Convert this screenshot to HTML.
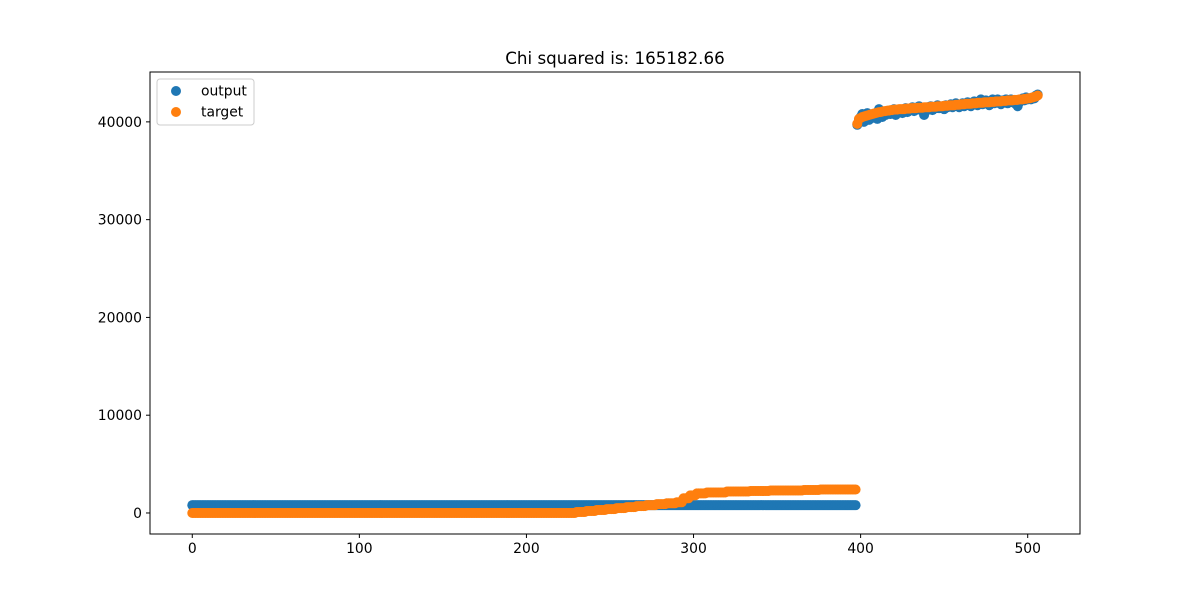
<!DOCTYPE html>
<html><head><meta charset="utf-8"><style>
body{margin:0;background:#fff}
svg{display:block;font-family:"DejaVu Sans","Liberation Sans",sans-serif}
</style></head><body>
<svg id="chart" width="1200" height="600">
<rect width="1200" height="600" fill="#fff"/>
<text x="615" y="64" text-anchor="middle" font-size="16.7">Chi squared is: 165182.66</text>
<g id="marks"></g>
<rect x="150" y="72" width="930" height="462" fill="none" stroke="#000" stroke-width="1"/>
<g id="axes"></g>
<g>
<rect x="157" y="79" width="97" height="46" rx="3" fill="#fff" fill-opacity="0.8" stroke="#ccc"/>
<circle cx="176" cy="91" r="5" fill="#1f77b4"/>
<text x="201" y="95.5" font-size="13.9">output</text>
<circle cx="176" cy="112" r="5" fill="#ff7f0e"/>
<text x="201" y="116.5" font-size="13.9">target</text>
</g>
</svg>
<script>
const xTicks=[0,100,200,300,400,500];
const yTicks=[0,10000,20000,30000,40000];
// lower segment (indices 0..397), run-length encoded
const outputLowVals=[800];
const outputLowCounts=[398];
const targetLowVals=[0,100,200,300,400,500,600,700,800,900,1000,1100,1500,1800,2000,2100,2200,2250,2300,2350,2400];
const targetLowCounts=[230,6,6,6,6,6,6,6,6,6,6,4,4,4,6,12,14,12,20,10,22];
// upper segment (indices 398..506)
const targetHigh=[39800,40300,40400,40500,40550,40600,40650,40700,40750,40800,40850,40900,40950,41000,41000,41050,41100,41100,41150,41150,41200,41200,41250,41250,41250,41300,41300,41300,41300,41350,41350,41350,41400,41400,41400,41400,41450,41450,41450,41450,41500,41500,41500,41500,41550,41550,41550,41550,41600,41600,41600,41600,41650,41650,41650,41700,41700,41700,41700,41750,41750,41750,41800,41800,41800,41850,41850,41850,41850,41900,41900,41900,41950,41950,41950,41950,42000,42000,42000,42000,42050,42050,42050,42100,42100,42100,42100,42150,42150,42150,42200,42200,42200,42200,42250,42250,42250,42300,42300,42300,42350,42350,42400,42400,42450,42500,42550,42600,42700];
const outputHigh=[39700,40200,40500,40800,40000,40300,40900,40200,40600,40400,40700,40900,40300,41300,40800,40500,41000,40700,40900,41100,40800,41000,41300,40700,41000,41200,41100,40900,41300,41400,41000,41200,41300,41500,41100,41300,41400,41600,41200,41400,40700,41100,41500,41300,41600,41200,41500,41400,41700,41400,41500,41600,41300,41700,41500,41700,41800,41500,41600,41900,41700,41500,41800,41900,41600,41700,42000,41800,41600,41900,42100,41900,41700,42100,42300,41800,42000,42200,41900,41700,42100,42300,41900,42000,42300,42100,41800,42200,42000,42300,41900,42100,42300,42000,42200,41800,41600,42000,42300,42400,42200,42500,42300,42400,42300,42500,42400,42700,42800];
const X0=150,X1=1080,Y0=534,Y1=72,xmin=-25.3,xmax=531.3,ymin=-2150,ymax=45100;
const sx=v=>X0+(v-xmin)/(xmax-xmin)*(X1-X0);
const sy=v=>Y0-(v-ymin)/(ymax-ymin)*(Y0-Y1);
const NS="http://www.w3.org/2000/svg";
const marks=document.getElementById('marks'),axes=document.getElementById('axes');
function expand(vals,counts){const r=[];vals.forEach((v,i)=>{for(let k=0;k<counts[i];k++)r.push(v)});return r;}
const outputAll=expand(outputLowVals,outputLowCounts).concat(outputHigh);
const targetAll=expand(targetLowVals,targetLowCounts).concat(targetHigh);
function draw(arr,color,name){
 const g=document.createElementNS(NS,'g');
 
 
 arr.forEach((v,i)=>{const c=document.createElementNS(NS,'circle');
  c.setAttribute('cx',sx(i));c.setAttribute('cy',sy(v));c.setAttribute('r',5);c.setAttribute('fill',color);
  
  
  g.appendChild(c);});
 marks.appendChild(g);
}
draw(outputAll,'#1f77b4','output');
draw(targetAll,'#ff7f0e','target');
xTicks.forEach(t=>{const x=sx(t);
 const l=document.createElementNS(NS,'line');l.setAttribute('x1',x);l.setAttribute('x2',x);l.setAttribute('y1',Y0);l.setAttribute('y2',Y0+4);l.setAttribute('stroke','#000');
 
 
 axes.appendChild(l);
 const tx=document.createElementNS(NS,'text');tx.setAttribute('x',x);tx.setAttribute('y',Y0+19);tx.setAttribute('text-anchor','middle');tx.setAttribute('font-size','13.9');tx.textContent=t;
 
 
 axes.appendChild(tx);});
yTicks.forEach(t=>{const y=sy(t);
 const l=document.createElementNS(NS,'line');l.setAttribute('x1',X0-4);l.setAttribute('x2',X0);l.setAttribute('y1',y);l.setAttribute('y2',y);l.setAttribute('stroke','#000');
 
 
 axes.appendChild(l);
 const tx=document.createElementNS(NS,'text');tx.setAttribute('x',X0-8);tx.setAttribute('y',y+5);tx.setAttribute('text-anchor','end');tx.setAttribute('font-size','13.9');tx.textContent=t;
 
 
 axes.appendChild(tx);});
</script>
</body></html>
